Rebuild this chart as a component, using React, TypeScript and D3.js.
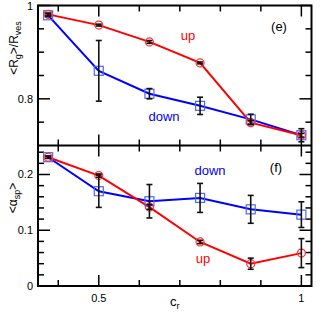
import React, { useEffect, useRef } from 'react'
import * as d3 from 'd3'

// x values (c_r)
const cr = [0.375, 0.5, 0.625, 0.75, 0.875, 1.0]

// panel (e): <Rg>/Rves
const rgUp = [0.981, 0.958, 0.922, 0.877, 0.749, 0.722]
const rgUpErr = [0.003, 0.002, 0.003, 0.002, 0.004, 0.004]
const rgDown = [0.979, 0.86, 0.811, 0.785, 0.756, 0.722]
const rgDownErr = [0.003, 0.065, 0.011, 0.0185, 0.011, 0.014]

// panel (f): <alpha_sp>
const aUp = [0.231, 0.198, 0.1416, 0.079, 0.040, 0.059]
const aUpErr = [0.002, 0.003, 0.004, 0.003, 0.01, 0.026]
const aDown = [0.231, 0.170, 0.152, 0.158, 0.1375, 0.128]
const aDownErr = [0.002, 0.029, 0.03, 0.026, 0.025, 0.023]

const xMajor = [0.5, 1.0]
const xMinor = [0.4, 0.6, 0.7, 0.8, 0.9]

export default function App() {
    const ref = useRef<SVGSVGElement | null>(null)

    const width = 325
    const height = 314
    const left = 38, right = 311.5
    const top = 5.5, mid = 145.5, bottom = 286

    function draw() {
        const svg = d3.select(ref.current)
        svg.selectAll('*').remove()

        const x = d3.scaleLinear().domain([0.35, 1.025]).range([left, right])
        const yTop = d3.scaleLinear().domain([0.7, 1.0]).range([mid, top])
        const yBot = d3.scaleLinear().domain([0, 0.252]).range([bottom, mid])

        const font = 'Liberation Sans, Arial, sans-serif'
        const red = '#ff0000'
        const blue = '#0000ff'

        function panel(y: any, up: number[], upErr: number[], down: number[], downErr: number[],
            yMajor: number[], yMinor: number[], fmt: (v: number) => string) {
            const g = svg.append('g')
            const y0 = y.range()[0], y1 = y.range()[1]

            // x ticks top and bottom of panel
            xMajor.concat(xMinor).forEach(v => {
                const len = xMajor.includes(v) ? 11 : 6
                g.append('line').attr('x1', x(v)).attr('x2', x(v)).attr('y1', y0).attr('y2', y0 - len)
                    .attr('stroke', '#000').attr('stroke-width', 1.5)
                g.append('line').attr('x1', x(v)).attr('x2', x(v)).attr('y1', y1).attr('y2', y1 + len)
                    .attr('stroke', '#000').attr('stroke-width', 1.5)
            })
            // y ticks left and right
            yMajor.concat(yMinor).forEach(v => {
                const len = yMajor.includes(v) ? 12 : 6
                g.append('line').attr('x1', left).attr('x2', left + len).attr('y1', y(v)).attr('y2', y(v))
                    .attr('stroke', '#000').attr('stroke-width', 1.5)
                g.append('line').attr('x1', right).attr('x2', right - len).attr('y1', y(v)).attr('y2', y(v))
                    .attr('stroke', '#000').attr('stroke-width', 1.5)
            })
            yMajor.forEach(v => {
                g.append('text').attr('x', 33).attr('y', y(v) + 4).attr('text-anchor', 'end')
                    .attr('font-family', font).attr('font-size', 11).text(fmt(v))
            })

            const line = d3.line<number>().x((d, i) => x(cr[i])).y(d => y(d))
            g.append('path').attr('d', line(down)).attr('fill', 'none').attr('stroke', blue).attr('stroke-width', 2)
            g.append('path').attr('d', line(up)).attr('fill', 'none').attr('stroke', red).attr('stroke-width', 2)

            down.forEach((v, i) => {
                g.append('rect').attr('x', x(cr[i]) - 4.5).attr('y', y(v) - 4.5).attr('width', 9).attr('height', 9)
                    .attr('fill', 'none').attr('stroke', '#4d66ff').attr('stroke-width', 1.2)
            })
            up.forEach((v, i) => {
                g.append('circle').attr('cx', x(cr[i])).attr('cy', y(v)).attr('r', 4)
                    .attr('fill', 'none').attr('stroke', '#ff3030').attr('stroke-width', 1.2)
            })

            const errs = (vals: number[], errv: number[]) => {
                vals.forEach((v, i) => {
                    const cx = x(cr[i])
                    const a = y(v - errv[i]), b = y(v + errv[i])
                    g.append('line').attr('x1', cx).attr('x2', cx).attr('y1', a).attr('y2', b)
                        .attr('stroke', '#111').attr('stroke-width', 1.6)
                    ;[a, b].forEach(yy => g.append('line').attr('x1', cx - 3).attr('x2', cx + 3)
                        .attr('y1', yy).attr('y2', yy).attr('stroke', '#111').attr('stroke-width', 1.6))
                })
            }
            errs(down, downErr)
            errs(up, upErr)
            return g
        }

        panel(yTop, rgUp, rgUpErr, rgDown, rgDownErr, [0.8, 1.0], [0.75, 0.85, 0.9, 0.95],
            v => (v === 1 ? '1' : d3.format('.1f')(v)))
        panel(yBot, aUp, aUpErr, aDown, aDownErr, [0, 0.1, 0.2],
            [0.02, 0.04, 0.06, 0.08, 0.12, 0.14, 0.16, 0.18, 0.22, 0.24],
            v => (v === 0 ? '0' : d3.format('.1f')(v)))

        // frames
        svg.append('rect').attr('x', left).attr('y', top).attr('width', right - left).attr('height', bottom - top)
            .attr('fill', 'none').attr('stroke', '#000').attr('stroke-width', 2)
        svg.append('line').attr('x1', left).attr('x2', right).attr('y1', mid).attr('y2', mid)
            .attr('stroke', '#000').attr('stroke-width', 2)

        // x tick labels
        xMajor.forEach(v => {
            svg.append('text').attr('x', x(v)).attr('y', 302).attr('text-anchor', 'middle')
                .attr('font-family', font).attr('font-size', 11).text(v === 1 ? '1' : String(v))
        })
        const xl = svg.append('text').attr('x', 170).attr('y', 306).attr('font-family', font).attr('font-size', 13)
        xl.append('tspan').text('c')
        xl.append('tspan').attr('font-size', 9).attr('dy', 3).text('r')

        // y labels
        const yl1 = svg.append('text').attr('transform', 'translate(18,48) rotate(-90)')
            .attr('text-anchor', 'middle').attr('font-family', font).attr('font-size', 12)
        yl1.append('tspan').text('<R')
        yl1.append('tspan').attr('font-size', 9).attr('dy', 3).text('g')
        yl1.append('tspan').attr('dy', -3).text('>/R')
        yl1.append('tspan').attr('font-size', 9).attr('dy', 3).text('ves')

        const yl2 = svg.append('text').attr('transform', 'translate(17,198) rotate(-90)')
            .attr('text-anchor', 'middle').attr('font-family', font).attr('font-size', 12)
        yl2.append('tspan').text('<α')
        yl2.append('tspan').attr('font-size', 9).attr('dy', 3).text('sp')
        yl2.append('tspan').attr('dy', -3).text('>')

        // annotations
        const ann = (tx: number, ty: number, s: string, c: string) =>
            svg.append('text').attr('x', tx).attr('y', ty).attr('text-anchor', 'middle')
                .attr('font-family', font).attr('font-size', 13).attr('fill', c).text(s)
        ann(279, 31, '(e)', '#000')
        ann(188, 40, 'up', red)
        ann(164, 121, 'down', blue)
        ann(276, 172, '(f)', '#000')
        ann(210, 175, 'down', blue)
        ann(203, 263, 'up', red)
    }

    useEffect(() => {
        draw()
    }, [])

    return (
        <svg ref={ref} width={width} height={height}
            style={{ position: 'absolute', left: 0, top: 0, background: '#fff' }} />
    )
}
